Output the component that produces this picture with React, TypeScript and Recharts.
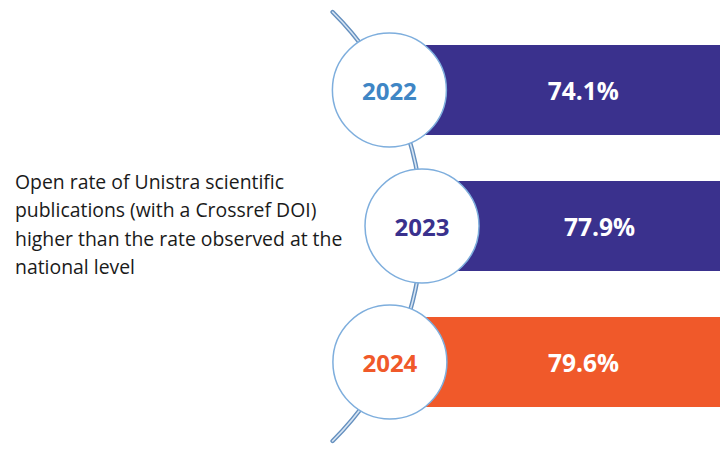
import { BarChart, Bar, XAxis, YAxis, LabelList, Customized } from 'recharts';

const years = ['2022', '2023', '2024'];
const openRates = [74.1, 77.9, 79.6];
const barColors = ['#3a318d', '#3a318d', '#f0592a'];
const yearColors = ['#3f86c5', '#3a318d', '#f0592a'];
const captionLines = [
  'Open rate of Unistra scientific',
  'publications (with a Crossref DOI)',
  'higher than the rate observed at the',
  'national level',
];

const data = years.map((year, i) => ({ year, rate: openRates[i], fill: barColors[i] }));

const W = 720;
const H = 453;
// the decorative arc the year bubbles sit on
const ARC_CX = 120;
const ARC_CY = 226.5;
const ARC_R = 302;
const ARC_TOP = 12;
const ARC_BOTTOM = 441;
const BUBBLE_R = 57;
const FONT = '"Open Sans", "Noto Sans", sans-serif';

const arcX = (y: number) => ARC_CX + Math.sqrt(Math.max(0, ARC_R * ARC_R - (y - ARC_CY) * (y - ARC_CY)));

function ArcLine() {
  const d = `M ${arcX(ARC_TOP)} ${ARC_TOP} A ${ARC_R} ${ARC_R} 0 0 1 ${arcX(ARC_BOTTOM)} ${ARC_BOTTOM}`;
  return (
    <g>
      <path d={d} fill="none" stroke="#6590bf" strokeWidth={4.4} strokeLinecap="round" />
      <path d={d} fill="none" stroke="#d6e4f3" strokeWidth={1.6} strokeLinecap="round" />
    </g>
  );
}

function Caption() {
  return (
    <text x={15} fill="#1a1a1a" fontFamily={FONT} fontSize={19.4}>
      {captionLines.map((line, i) => (
        <tspan key={i} x={15} y={188.5 + i * 28.6}>
          {line}
        </tspan>
      ))}
    </text>
  );
}

const YearBubble = (props: any) => {
  const { y, height, value, index } = props;
  const cy = y + height / 2;
  const cx = arcX(cy);
  return (
    <g>
      <circle cx={cx} cy={cy} r={BUBBLE_R} fill="#fff" stroke="#7eaedd" strokeWidth={1.5} />
      <text
        x={cx}
        y={cy}
        textAnchor="middle"
        dominantBaseline="central"
        fontFamily={FONT}
        fontWeight={700}
        fontSize={24}
        fill={yearColors[index]}
      >
        {value}
      </text>
    </g>
  );
};

const RateLabel = (props: any) => {
  const { y, height, value } = props;
  const cy = y + height / 2;
  const left = arcX(cy) + BUBBLE_R;
  return (
    <text
      x={(left + W) / 2}
      y={cy}
      textAnchor="middle"
      dominantBaseline="central"
      fontFamily={FONT}
      fontWeight={700}
      fontSize={24.5}
      fill="#fff"
    >
      {`${Number(value).toFixed(1)}%`}
    </text>
  );
};

export default function App() {
  return (
    <div style={{ position: 'absolute', left: 0, top: 0, width: W, height: H, background: '#fff' }}>
      <BarChart
        width={W}
        height={H}
        data={data}
        layout="vertical"
        margin={{ top: 22, right: 0, bottom: 23, left: 400 }}
      >
        <XAxis type="number" hide domain={[0, 70]} allowDataOverflow />
        <YAxis type="category" dataKey="year" hide />
        <Customized component={ArcLine} />
        <Customized component={Caption} />
        <Bar dataKey="rate" barSize={90} isAnimationActive={false}>
          <LabelList dataKey="rate" content={RateLabel} />
          <LabelList dataKey="year" content={YearBubble} />
        </Bar>
      </BarChart>
    </div>
  );
}
